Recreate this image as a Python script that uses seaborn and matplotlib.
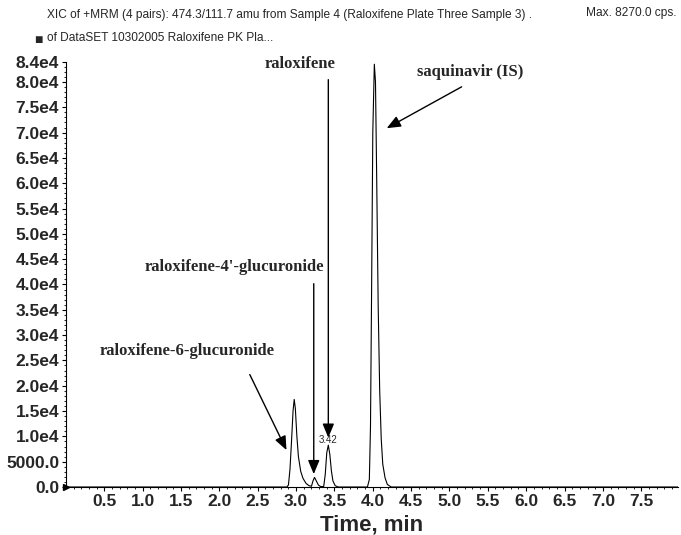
import numpy as np
import pandas as pd
import seaborn as sns
import matplotlib.pyplot as plt
from matplotlib.ticker import MultipleLocator

# chromatogram trace (time in min, intensity in cps)
time_min = [0.0, 2.88, 2.90, 2.92, 2.94, 2.96, 2.975, 2.99, 3.01, 3.03, 3.06, 3.09, 3.13, 3.17, 3.20,
            3.22, 3.24, 3.26, 3.29, 3.32, 3.36, 3.38, 3.40, 3.42, 3.44, 3.46, 3.48, 3.51, 3.55,
            3.93, 3.955, 3.97, 3.985, 4.00, 4.02, 4.035, 4.05, 4.07, 4.09, 4.11, 4.13, 4.16, 4.19,
            4.24, 8.0]
intensity = [0, 0, 400, 3500, 9000, 15000, 17300, 15500, 10000, 6000, 3100, 1700, 700, 250, 150,
             1200, 1900, 1300, 400, 80, 100, 2500, 6800, 8270, 6400, 3200, 1200, 250, 0,
             0, 1500, 12000, 40000, 70000, 83500, 80000, 62000, 36000, 19000, 9500, 4500, 1800, 500,
             0, 0]

y_ticks = [0, 5000, 10000, 15000, 20000, 25000, 30000, 35000, 40000, 45000, 50000, 55000,
           60000, 65000, 70000, 75000, 80000, 84000]
y_labels = ["0.0", "5000.0", "1.0e4", "1.5e4", "2.0e4", "2.5e4", "3.0e4", "3.5e4", "4.0e4",
            "4.5e4", "5.0e4", "5.5e4", "6.0e4", "6.5e4", "7.0e4", "7.5e4", "8.0e4", "8.4e4"]
x_ticks = [0.5, 1.0, 1.5, 2.0, 2.5, 3.0, 3.5, 4.0, 4.5, 5.0, 5.5, 6.0, 6.5, 7.0, 7.5]

# peak annotations: label, text position, arrow tip
peak_names = ["raloxifene", "saquinavir (IS)", "raloxifene-4'-glucuronide", "raloxifene-6-glucuronide"]
label_xy = [(3.05, 82000), (5.27, 80300), (2.20, 41800), (1.58, 25300)]
arrow_from = [(3.42, 81000), (5.19, 79300), (3.23, 40700), (2.38, 22700)]
arrow_to = [(3.42, 9200), (4.15, 70600), (3.23, 2000), (2.89, 6800)]

sns.set_style("ticks")
plt.rcParams["font.family"] = ["Liberation Sans", "DejaVu Sans"]

df = pd.DataFrame({"Time, min": time_min, "cps": intensity})

fig = plt.figure(figsize=(6.81, 5.35), dpi=100)
ax = fig.add_axes([0.097, 0.0897, 0.8986, 0.795])

sns.lineplot(data=df, x="Time, min", y="cps", color="black", linewidth=0.8, ax=ax)

ax.set_xlim(0, 7.98)
ax.set_ylim(0, 84000)
ax.set_xticks(x_ticks)
ax.set_xticklabels([f"{v:.1f}" for v in x_ticks], fontsize=12.5, fontweight="bold")
ax.xaxis.set_minor_locator(MultipleLocator(0.1))
ax.set_yticks(y_ticks)
ax.set_yticklabels(y_labels, fontsize=12.5, fontweight="bold")
ax.yaxis.set_minor_locator(MultipleLocator(1000))
ax.tick_params(axis="both", which="major", length=3, width=0.8, pad=2, color="black")
ax.tick_params(axis="both", which="minor", length=1.5, width=0.6, color="black")
ax.set_xlabel("Time, min", fontsize=16, fontweight="bold", labelpad=4)
ax.set_ylabel("")
sns.despine(ax=ax)
for s in ["left", "bottom"]:
    ax.spines[s].set_linewidth(0.8)
    ax.spines[s].set_color("black")

# small marker at the origin of the y axis
ax.plot([0.0], [0], marker=">", color="black", markersize=4, clip_on=False)

for name, txy, a0, a1 in zip(peak_names, label_xy, arrow_from, arrow_to):
    ax.text(txy[0], txy[1], name, family="Liberation Serif", fontweight="bold", fontsize=12,
            ha="center", va="bottom")
    ax.annotate("", xy=a1, xytext=a0,
                arrowprops=dict(arrowstyle="-|>,head_length=0.6,head_width=0.25", color="black",
                                lw=1.0, mutation_scale=14))

ax.text(3.42, 8300, "3.42", fontsize=7, ha="center", va="bottom")

# header
fig.text(0.069, 0.972, "XIC of +MRM (4 pairs): 474.3/111.7 amu from Sample 4 (Raloxifene Plate Three Sample 3) .",
         fontsize=8.6, ha="left", va="center")
fig.text(0.069, 0.929, "of DataSET 10302005 Raloxifene PK Pla...", fontsize=8.6, ha="left", va="center")
fig.text(0.994, 0.975, "Max. 8270.0 cps.", fontsize=8.6, ha="right", va="center")
fig.text(0.056, 0.925, "\u25a0", fontsize=10, ha="center", va="center")

fig.savefig("out.png", dpi=100)
